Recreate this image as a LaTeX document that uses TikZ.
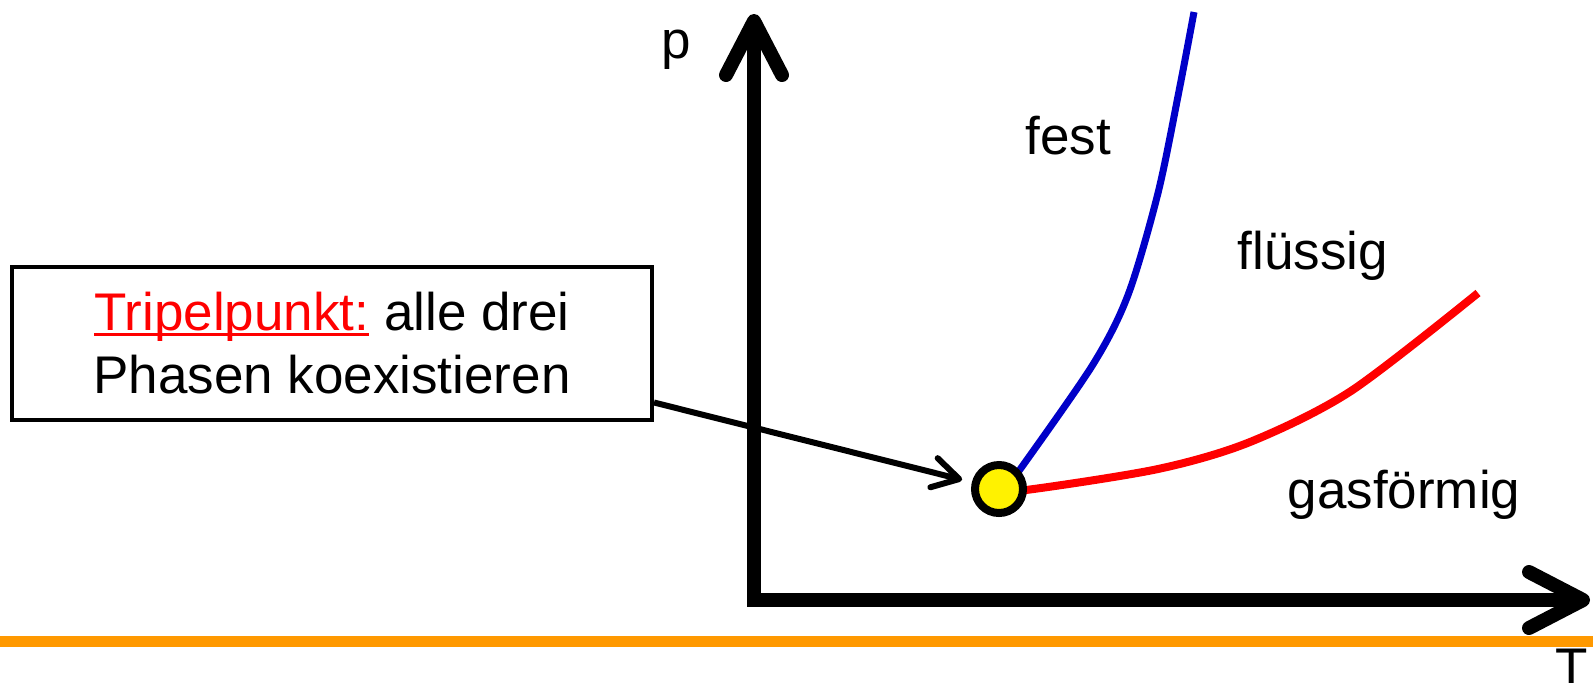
\documentclass[tikz,border=0pt]{standalone}
\usepackage{fontspec}
\setmainfont{Liberation Sans}
\usetikzlibrary{arrows.meta, calc}

\definecolor{phblau}{RGB}{0,0,200}
\definecolor{phorange}{RGB}{255,153,0}
\newcommand{\rotunter}[1]{{\setbox0\hbox{#1}\rlap{\rule[-3pt]{\wd0}{1.5pt}}\box0}}

\begin{document}
\begin{tikzpicture}[x=0.5pt, y=-0.5pt,
    lbl/.style={font=\fontsize{26.5}{31.5}\selectfont, inner sep=0pt},
    achse/.style={line width=7pt, -{Straight Barb[length=27pt, width=28pt, round]}}]
    \useasboundingbox (0,0) rectangle (1593,682);

    % Trennlinie unten
    \draw[phorange, line width=5.5pt] (0,641) -- (1593,641);

    % Achsen
    \coordinate (ursprung) at (754,600);
    \coordinate (pende) at (754,14);
    \coordinate (tende) at (1590,600);
    \draw[achse, line cap=butt] (ursprung) -- (pende);
    \draw[achse] ($(ursprung)+(-7,0)$) -- (tende);
    \node[lbl, anchor=base] (p) at (676,58) {p};
    \node[lbl, anchor=base] (T) at (1572,685) {T};

    % Phasengrenzen
    \draw[phblau, line width=3.5pt] (999,489) -- plot[smooth] coordinates {(1016,475) (1092,366) (1128,295) (1158,193) (1179,91) (1194,12)};
    \draw[red, line width=4pt] plot[smooth] coordinates {(999,489) (1026,490) (1158,469) (1250,442) (1351,391) (1478,293)};

    % Tripelpunkt
    \node[circle, draw, line width=4pt, fill=yellow, minimum size=24pt, inner sep=0pt] (tp) at (999,489) {};

    \node[lbl, anchor=base] (fest) at (1068,154) {fest};
    \node[lbl, anchor=base] (fluessig) at (1313,269) {flüssig};
    \node[lbl, anchor=base] (gas) at (1404,508) {gasförmig};

    % Erklaerung
    \node[lbl, draw, line width=2pt, align=center, minimum width=320pt, minimum height=76.5pt] (box) at (332,343)
        {\textcolor{red}{\rotunter{Tripelpunkt:}} alle drei\\Phasen koexistieren};
    \draw[line width=3pt, -{Straight Barb[length=13pt, width=15pt, round]}, shorten >=5pt]
        ([yshift=9.5pt]box.south east) -- (tp);
\end{tikzpicture}
\end{document}
